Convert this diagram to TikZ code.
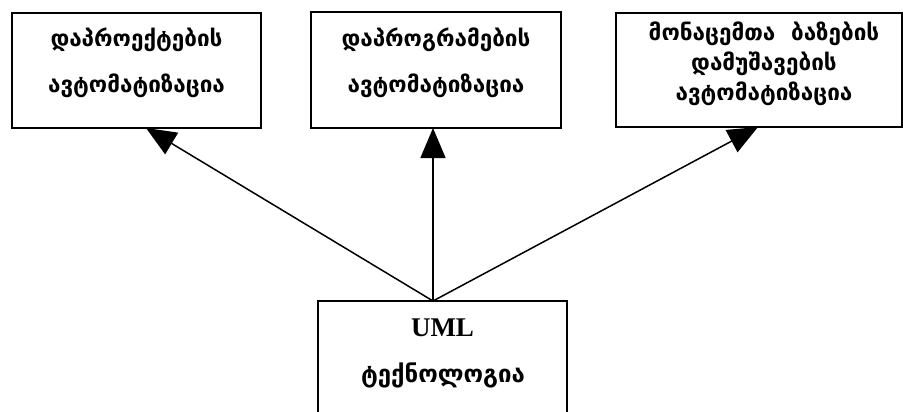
\documentclass[tikz,border=0pt]{standalone}
\usepackage{fontspec}
\setmainfont{Liberation Serif}
\newfontfamily\geo{DejaVu Sans}
\usetikzlibrary{arrows.meta}
\begin{document}
\begin{tikzpicture}[x=1pt,y=-1pt,
  box/.style={draw, line width=1.5pt, inner sep=0pt},
  txt/.style={align=center, inner sep=0pt, font=\geo\bfseries\fontsize{22.5}{46}\selectfont},
  arr/.style={-{Triangle[length=30pt,width=25pt]}, line width=1.5pt}]
\useasboundingbox (0,0) rectangle (903,412);
\clip (0,0) rectangle (903,412);
\node[box, minimum width=249pt, minimum height=115pt] (b1) at (136.5,70.5) {};
\node[box, minimum width=250pt, minimum height=116pt] (b2) at (436,70) {};
\node[box, minimum width=286pt, minimum height=114pt] (b3) at (759,70) {};
\node[box, minimum width=249pt, minimum height=140pt] (b4) at (442.5,371) {};
\node[txt] (t1) at (136.5,63) {დაპროექტების\\ავტომატიზაცია};
\node[txt] (t2) at (436,63) {დაპროგრამების\\ავტომატიზაცია};
\node[txt, font=\geo\bfseries\fontsize{22.5}{30}\selectfont] (t3) at (764,63.5) {მონაცემთა~~ბაზების\\დამუშავების\\ავტომატიზაცია};
\node[inner sep=0pt, font=\bfseries\fontsize{27}{30}\selectfont] (uml) at (442.5,328) {UML};
\node[txt, font=\geo\bfseries\fontsize{24}{30}\selectfont] (tech) at (443,375) {ტექნოლოგია};
\coordinate (apex) at (433,301);
\coordinate (e1) at (146,128);
\coordinate (e2) at (433,128);
\coordinate (e3) at (758,127);
\draw[arr] (apex) -- (e1);
\draw[arr] (apex) -- (e2);
\draw[arr] (apex) -- (e3);
\end{tikzpicture}
\end{document}
